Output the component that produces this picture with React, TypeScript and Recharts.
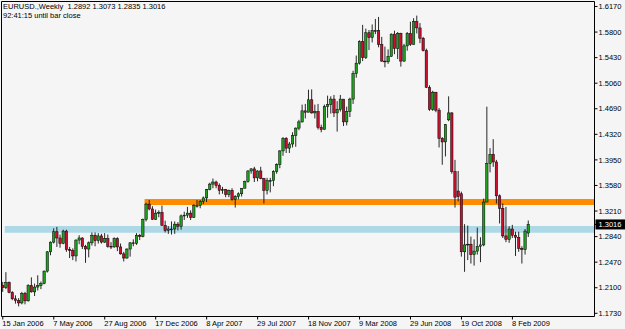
import { ComposedChart, Bar, XAxis, YAxis, ReferenceArea } from 'recharts'

// weekly bars [open, high, low, close], grouped by the year of the week's start date
const weeks2006 = [
  [1.2130, 1.2185, 1.2040, 1.2100], [1.2100, 1.2325, 1.2080, 1.2175], [1.2175, 1.2190, 1.2020, 1.2030],
  [1.2030, 1.2050, 1.1920, 1.1940], [1.1940, 1.1990, 1.1870, 1.1915], [1.1915, 1.1950, 1.1830, 1.1880],
  [1.1880, 1.2040, 1.1860, 1.2020], [1.2020, 1.2040, 1.1860, 1.1910], [1.1910, 1.2150, 1.1900, 1.2130],
  [1.2130, 1.2250, 1.2030, 1.2040], [1.2040, 1.2160, 1.1980, 1.2110], [1.2110, 1.2280, 1.2060, 1.2130],
  [1.2130, 1.2190, 1.2080, 1.2160], [1.2160, 1.2350, 1.2150, 1.2340], [1.2340, 1.2630, 1.2320, 1.2620],
  [1.2620, 1.2770, 1.2570, 1.2760], [1.2760, 1.2960, 1.2740, 1.2910], [1.2910, 1.2980, 1.2690, 1.2820],
  [1.2820, 1.2870, 1.2680, 1.2740], [1.2740, 1.2940, 1.2730, 1.2920], [1.2920, 1.2940, 1.2620, 1.2650],
  [1.2650, 1.2690, 1.2530, 1.2640], [1.2640, 1.2670, 1.2500, 1.2560], [1.2560, 1.2800, 1.2480, 1.2790],
  [1.2790, 1.2860, 1.2730, 1.2820], [1.2820, 1.2830, 1.2660, 1.2700], [1.2700, 1.2720, 1.2460, 1.2660],
  [1.2660, 1.2770, 1.2540, 1.2750], [1.2750, 1.2900, 1.2710, 1.2860], [1.2860, 1.2900, 1.2700, 1.2780],
  [1.2780, 1.2890, 1.2740, 1.2850], [1.2850, 1.2880, 1.2740, 1.2760], [1.2760, 1.2890, 1.2750, 1.2810],
  [1.2810, 1.2870, 1.2680, 1.2700], [1.2700, 1.2760, 1.2660, 1.2690], [1.2690, 1.2830, 1.2680, 1.2810],
  [1.2810, 1.2830, 1.2630, 1.2690], [1.2690, 1.2740, 1.2580, 1.2590], [1.2590, 1.2620, 1.2480, 1.2530],
  [1.2530, 1.2670, 1.2520, 1.2660], [1.2660, 1.2760, 1.2550, 1.2750], [1.2750, 1.2800, 1.2700, 1.2740],
  [1.2740, 1.2890, 1.2720, 1.2860], [1.2860, 1.2880, 1.2790, 1.2840], [1.2840, 1.3100, 1.2830, 1.3090],
  [1.3090, 1.3330, 1.3060, 1.3310], [1.3310, 1.3370, 1.3220, 1.3240], [1.3240, 1.3280, 1.3080, 1.3090],
  [1.3090, 1.3230, 1.3080, 1.3180], [1.3180, 1.3220, 1.3120, 1.3190], [1.3190, 1.3290, 1.3000, 1.3000],
]

const weeks2007 = [
  [1.3000, 1.3070, 1.2900, 1.2930], [1.2930, 1.2990, 1.2880, 1.2950], [1.2950, 1.3060, 1.2870, 1.2950],
  [1.2950, 1.3060, 1.2880, 1.3020], [1.3020, 1.3050, 1.2930, 1.2990], [1.2990, 1.3160, 1.2940, 1.3140],
  [1.3140, 1.3200, 1.3080, 1.3150], [1.3150, 1.3270, 1.3110, 1.3180], [1.3180, 1.3220, 1.3080, 1.3120],
  [1.3120, 1.3310, 1.3110, 1.3290], [1.3290, 1.3370, 1.3260, 1.3290], [1.3290, 1.3370, 1.3250, 1.3350],
  [1.3350, 1.3420, 1.3310, 1.3400], [1.3400, 1.3530, 1.3340, 1.3520], [1.3520, 1.3620, 1.3510, 1.3600],
  [1.3600, 1.3680, 1.3540, 1.3630], [1.3630, 1.3650, 1.3540, 1.3580], [1.3580, 1.3610, 1.3450, 1.3510],
  [1.3510, 1.3560, 1.3460, 1.3520], [1.3520, 1.3530, 1.3410, 1.3450], [1.3450, 1.3520, 1.3410, 1.3510],
  [1.3510, 1.3540, 1.3360, 1.3380], [1.3380, 1.3440, 1.3260, 1.3420], [1.3420, 1.3480, 1.3380, 1.3460],
  [1.3460, 1.3540, 1.3420, 1.3540], [1.3540, 1.3650, 1.3540, 1.3640], [1.3640, 1.3800, 1.3620, 1.3790],
  [1.3790, 1.3830, 1.3750, 1.3820], [1.3820, 1.3850, 1.3630, 1.3690], [1.3690, 1.3800, 1.3640, 1.3790],
  [1.3790, 1.3850, 1.3670, 1.3680], [1.3680, 1.3690, 1.3320, 1.3510], [1.3510, 1.3690, 1.3450, 1.3650],
  [1.3650, 1.3690, 1.3480, 1.3650], [1.3650, 1.3800, 1.3570, 1.3780], [1.3780, 1.3900, 1.3750, 1.3880],
  [1.3880, 1.4090, 1.3830, 1.4080], [1.4080, 1.4280, 1.4010, 1.4260], [1.4260, 1.4280, 1.4050, 1.4120],
  [1.4120, 1.4210, 1.4050, 1.4180], [1.4180, 1.4350, 1.4130, 1.4300], [1.4300, 1.4420, 1.4140, 1.4410],
  [1.4410, 1.4530, 1.4380, 1.4500], [1.4500, 1.4750, 1.4490, 1.4660], [1.4660, 1.4760, 1.4550, 1.4640],
  [1.4640, 1.4966, 1.4640, 1.4820], [1.4820, 1.4970, 1.4620, 1.4630], [1.4630, 1.4750, 1.4550, 1.4650],
  [1.4650, 1.4760, 1.4390, 1.4420], [1.4420, 1.4460, 1.4350, 1.4390], [1.4390, 1.4750, 1.4390, 1.4720],
  [1.4720, 1.4880, 1.4560, 1.4750],
]

const weeks2008 = [
  [1.4750, 1.4870, 1.4620, 1.4830], [1.4830, 1.4890, 1.4570, 1.4630], [1.4630, 1.4800, 1.4360, 1.4680],
  [1.4680, 1.4890, 1.4650, 1.4830], [1.4830, 1.4830, 1.4440, 1.4500], [1.4500, 1.4720, 1.4450, 1.4650],
  [1.4650, 1.4850, 1.4570, 1.4830], [1.4830, 1.5240, 1.4760, 1.5200], [1.5200, 1.5460, 1.5140, 1.5350],
  [1.5350, 1.5680, 1.5330, 1.5660], [1.5660, 1.5904, 1.5380, 1.5430], [1.5430, 1.5850, 1.5410, 1.5790],
  [1.5790, 1.5830, 1.5540, 1.5720], [1.5720, 1.5910, 1.5650, 1.5820], [1.5820, 1.5990, 1.5770, 1.5820],
  [1.5820, 1.6019, 1.5580, 1.5620], [1.5620, 1.5730, 1.5370, 1.5380], [1.5380, 1.5590, 1.5290, 1.5370],
  [1.5370, 1.5550, 1.5340, 1.5450], [1.5450, 1.5780, 1.5440, 1.5770], [1.5770, 1.5820, 1.5480, 1.5560],
  [1.5560, 1.5800, 1.5410, 1.5780], [1.5780, 1.5790, 1.5300, 1.5380], [1.5380, 1.5630, 1.5370, 1.5600],
  [1.5600, 1.5800, 1.5530, 1.5780], [1.5780, 1.5950, 1.5600, 1.5620], [1.5620, 1.6000, 1.5620, 1.5950],
  [1.5950, 1.6038, 1.5780, 1.5860], [1.5860, 1.5930, 1.5640, 1.5710], [1.5710, 1.5730, 1.5520, 1.5530],
  [1.5530, 1.5560, 1.4990, 1.5000], [1.5000, 1.5030, 1.4660, 1.4680], [1.4680, 1.4950, 1.4660, 1.4930],
  [1.4930, 1.4930, 1.4640, 1.4670], [1.4670, 1.4700, 1.4130, 1.4260], [1.4260, 1.4280, 1.3880, 1.4210],
  [1.4210, 1.4470, 1.4000, 1.4460], [1.4530, 1.4870, 1.4510, 1.4630], [1.4630, 1.4640, 1.3750, 1.3780],
  [1.3780, 1.3950, 1.3260, 1.3410], [1.3500, 1.3790, 1.3350, 1.3420], [1.3460, 1.3490, 1.2550, 1.2620],
  [1.2620, 1.3020, 1.2330, 1.2720], [1.2720, 1.3000, 1.2500, 1.2730], [1.2730, 1.2840, 1.2450, 1.2580],
  [1.2580, 1.2800, 1.2420, 1.2630], [1.2630, 1.2970, 1.2580, 1.2700], [1.2700, 1.2830, 1.2470, 1.2720],
  [1.2720, 1.3390, 1.2700, 1.3340], [1.3340, 1.4720, 1.3340, 1.3900], [1.3900, 1.4120, 1.3770, 1.4030],
  [1.4030, 1.4250, 1.3850, 1.3920],
]

const weeks2009 = [
  [1.3920, 1.3950, 1.3320, 1.3430], [1.3430, 1.3450, 1.3030, 1.3250], [1.3250, 1.3320, 1.2820, 1.2850],
  [1.2850, 1.3270, 1.2760, 1.2800], [1.2800, 1.2990, 1.2750, 1.2950], [1.2950, 1.3010, 1.2820, 1.2860],
  [1.2860, 1.2910, 1.2560, 1.2830], [1.2830, 1.2910, 1.2620, 1.2670], [1.2670, 1.2700, 1.2450, 1.2650],
  [1.2650, 1.2950, 1.2580, 1.2920], [1.2892, 1.3073, 1.2835, 1.3016],
]

const tickWeeks = [0, 16, 32, 48, 64, 80, 96, 112, 128, 144, 160]
const tickDates = ['15 Jan 2006', '7 May 2006', '27 Aug 2006', '17 Dec 2006', '8 Apr 2007', '29 Jul 2007',
  '18 Nov 2007', '9 Mar 2008', '29 Jun 2008', '19 Oct 2008', '8 Feb 2009']
const priceTicks = [1.617, 1.58, 1.543, 1.506, 1.469, 1.432, 1.395, 1.358, 1.321, 1.284, 1.247, 1.21, 1.173]

// zones drawn on the chart: first week, low and high price
const resistanceZone = [44.5, 1.3296, 1.3383]
const supportZone = [0.6, 1.2895, 1.2992]

const lastBar = weeks2009[weeks2009.length - 1]
const headerLine = 'EURUSD.,Weekly  ' + lastBar.map((v) => v.toFixed(4)).join(' ')
const timerLine = '92:41:15 until bar close'

const data = [...weeks2006, ...weeks2007, ...weeks2008, ...weeks2009].map(([open, high, low, close], i) => ({
  i,
  open,
  high,
  low,
  close,
  range: [low, high],
}))

const X_DOMAIN: [number, number] = [-0.41, 185.77]
const Y_DOMAIN: [number, number] = [1.16837, 1.62424]
const FONT = '"Liberation Sans", Arial, sans-serif'

function Candle(props: any) {
  const { x, y, width, height, payload } = props
  if (!payload || height == null) return null
  const { open, high, low, close } = payload
  const cx = x + width / 2
  const py = (p: number) => y + ((high - p) / (high - low)) * height
  const up = close >= open
  const top = py(Math.max(open, close))
  const bottom = py(Math.min(open, close))
  return (
    <g>
      <line x1={cx} x2={cx} y1={y} y2={y + height} stroke="#111" strokeWidth={0.9} />
      <rect
        x={cx - 1.2}
        y={top}
        width={2.4}
        height={Math.max(bottom - top, 0.8)}
        fill={up ? '#1f9e1f' : '#c8102e'}
        stroke="#000"
        strokeWidth={0.5}
      />
    </g>
  )
}

function DateTick(props: any) {
  const { x, y, payload } = props
  const k = tickWeeks.indexOf(payload.value)
  return (
    <g>
      <line x1={x} x2={x} y1={y} y2={y + 3} stroke="#000" />
      <text x={x - 0.5} y={y + 9.5} fontSize={7.5} fontFamily={FONT} fill="#000" textAnchor="start">
        {tickDates[k]}
      </text>
    </g>
  )
}

function PriceTick(props: any) {
  const { x, y, payload } = props
  if (payload.value === lastBar[3]) {
    return (
      <g>
        <rect x={x - 3} y={y - 5} width={31} height={10} fill="#000" />
        <text x={x} y={y} dy="0.35em" fontSize={7.5} fontFamily={FONT} fill="#fff" textAnchor="start">
          {payload.value.toFixed(4)}
        </text>
      </g>
    )
  }
  return (
    <text x={x} y={y} dy="0.35em" fontSize={7.5} fontFamily={FONT} fill="#000" textAnchor="start">
      {payload.value.toFixed(4)}
    </text>
  )
}

export default function App() {
  return (
    <div style={{ position: 'relative', width: 625, height: 329, background: '#f5f5f5', overflow: 'hidden' }}>
      <style>{'body{margin:0}'}</style>
      <ComposedChart
        width={625}
        height={329}
        data={data}
        margin={{ top: 1.5, right: 0, left: 1.5, bottom: 0 }}
      >
        <XAxis
          type="number"
          dataKey="i"
          domain={X_DOMAIN}
          allowDataOverflow
          ticks={tickWeeks}
          interval={0}
          height={12.5}
          tickSize={0}
          tickMargin={0}
          tickLine={false}
          axisLine={false}
          tick={<DateTick />}
        />
        <YAxis
          orientation="right"
          type="number"
          domain={Y_DOMAIN}
          allowDataOverflow
          ticks={[...priceTicks, lastBar[3]]}
          interval={0}
          width={30.5}
          tickSize={3}
          tickMargin={1}
          tickLine={{ stroke: '#000' }}
          axisLine={false}
          tick={<PriceTick />}
        />
        <ReferenceArea
          x1={resistanceZone[0]}
          x2={X_DOMAIN[1]}
          y1={resistanceZone[1]}
          y2={resistanceZone[2]}
          fill="#ff8c00"
          fillOpacity={1}
          stroke="none"
        />
        <ReferenceArea
          x1={supportZone[0]}
          x2={X_DOMAIN[1]}
          y1={supportZone[1]}
          y2={supportZone[2]}
          fill="#add8e6"
          fillOpacity={1}
          stroke="none"
        />
        <Bar dataKey="range" barSize={3} shape={<Candle />} isAnimationActive={false} />
        <ReferenceArea
          x1={X_DOMAIN[0]}
          x2={X_DOMAIN[1]}
          y1={Y_DOMAIN[0]}
          y2={Y_DOMAIN[1]}
          fill="none"
          stroke="#000"
          strokeWidth={1}
        />
      </ComposedChart>
      <div style={{ position: 'absolute', left: 3, top: 3, fontFamily: FONT, fontSize: 7.5, lineHeight: '8.5px', color: '#000', whiteSpace: 'pre' }}>
        {headerLine}
        <br />
        {timerLine}
      </div>
    </div>
  )
}
